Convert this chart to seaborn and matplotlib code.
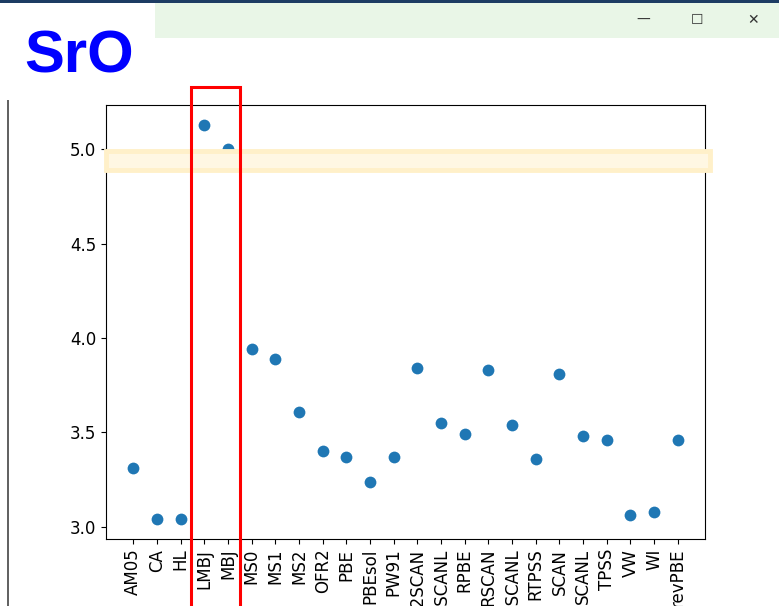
import matplotlib
matplotlib.use("Agg")
import matplotlib.pyplot as plt
from matplotlib.patches import Rectangle
from matplotlib.lines import Line2D
import seaborn as sns
import pandas as pd

# band gap per functional for SrO
methods = ['AM05', 'CA', 'HL', 'LMBJ', 'MBJ', 'MS0', 'MS1', 'MS2', 'OFR2', 'PBE',
           'PBEsol', 'PW91', 'R2SCAN', 'R2SCANL', 'RPBE', 'RSCAN', 'RSCANL', 'RTPSS',
           'SCAN', 'SCANL', 'TPSS', 'VW', 'WI', 'revPBE']
gaps = [3.31, 3.04, 3.04, 5.13, 5.00, 3.94, 3.89, 3.61, 3.40, 3.37,
        3.24, 3.37, 3.84, 3.55, 3.49, 3.83, 3.54, 3.36,
        3.81, 3.48, 3.46, 3.06, 3.08, 3.46]
label = 'SrO'

W, H = 779, 606


def px(x, y):
    # screen pixel (from top-left) -> figure fraction
    return x / W, 1 - y / H


fig = plt.figure(figsize=(W / 100, H / 100), dpi=100)
ax = fig.add_axes([106 / W, 1 - 539 / H, (705 - 106) / W, (539 - 105) / H])

df = pd.DataFrame({'method': methods, 'gap': gaps})
sns.scatterplot(data=df, x='method', y='gap', ax=ax, s=72, color='#1f77b4', linewidth=0)
ax.set_xlabel('')
ax.set_ylabel('')
ax.margins(x=0.05, y=0.05)
ax.tick_params(axis='x', labelrotation=90, labelsize=12)
ax.tick_params(axis='y', labelsize=12)

# window chrome from the screenshot
fig.add_artist(Rectangle(px(0, 3), 1, 3 / H, transform=fig.transFigure,
                         facecolor='#1d3c63', edgecolor='none', zorder=5))
fig.add_artist(Rectangle(px(155, 38), 1, 35 / H, transform=fig.transFigure,
                         facecolor='#e9f6e7', edgecolor='none', zorder=5))
for xc, ch in [(643, '—'), (697, '☐'), (753, '✕')]:
    fig.text(*px(xc, 20), ch, ha='center', va='center', fontsize=10,
             color='#333333', zorder=6)
fig.add_artist(Line2D([8 / W, 8 / W], [0, 1 - 100 / H], transform=fig.transFigure,
                      color='#444444', lw=1.2, zorder=5))

# label box
fig.add_artist(Rectangle(px(0, 100), 155 / W, 97 / H, transform=fig.transFigure,
                         facecolor='white', edgecolor='none', zorder=6))
fig.text(*px(79, 57), label, ha='center', va='center', fontsize=43,
         fontweight='bold', family='Liberation Sans', color='#0000ff', zorder=7)

# highlight band around 5.0
fig.add_artist(Rectangle(px(106, 170), (710 - 106) / W, 19 / H, transform=fig.transFigure,
                         facecolor='#fff7e3', edgecolor='#fff0c9', lw=3.5, zorder=8))

# red box around the MBJ columns
fig.add_artist(Rectangle(px(191, 612), (240 - 191) / W, (612 - 87) / H,
                         transform=fig.transFigure, facecolor='none',
                         edgecolor='#ff0000', lw=2.2, zorder=9))

fig.savefig('out.png', dpi=100)
